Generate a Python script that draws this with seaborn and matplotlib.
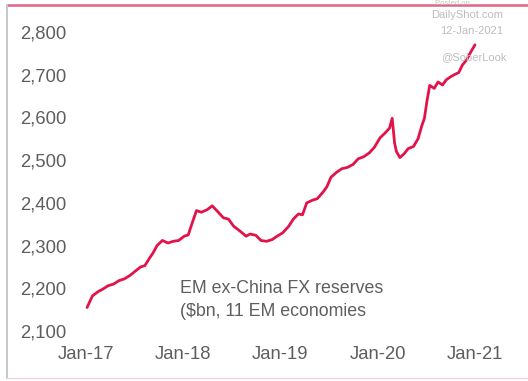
import matplotlib
matplotlib.use("Agg")
import matplotlib.pyplot as plt
from matplotlib.lines import Line2D
import pandas as pd
import seaborn as sns

# EM ex-China FX reserves, $bn
dates = [
    "2017-01-05", "2017-01-25", "2017-02-15", "2017-03-05", "2017-03-25", "2017-04-15",
    "2017-05-05", "2017-05-25", "2017-06-15", "2017-07-05", "2017-07-25", "2017-08-10",
    "2017-08-25", "2017-09-10", "2017-09-25", "2017-10-15", "2017-11-05", "2017-11-25",
    "2017-12-15", "2018-01-05", "2018-01-20", "2018-02-05", "2018-02-20", "2018-03-10",
    "2018-04-01", "2018-04-20", "2018-05-10", "2018-06-01", "2018-06-20", "2018-07-10",
    "2018-07-25", "2018-08-10", "2018-08-25", "2018-09-10", "2018-10-01", "2018-10-20",
    "2018-11-10", "2018-12-01", "2018-12-20", "2019-01-10", "2019-02-01", "2019-02-20",
    "2019-03-10", "2019-03-25", "2019-04-10", "2019-05-01", "2019-05-20", "2019-06-10",
    "2019-06-25", "2019-07-10", "2019-08-01", "2019-08-20", "2019-09-10", "2019-10-01",
    "2019-10-20", "2019-11-10", "2019-12-01", "2019-12-20", "2020-01-10", "2020-01-30",
    "2020-02-15", "2020-02-25", "2020-03-05", "2020-03-12", "2020-03-25", "2020-04-10",
    "2020-04-25", "2020-05-15", "2020-06-01", "2020-06-15", "2020-06-25", "2020-07-05",
    "2020-07-15", "2020-08-01", "2020-08-15", "2020-09-01", "2020-09-15", "2020-10-01",
    "2020-10-15", "2020-11-01", "2020-11-15", "2020-12-01", "2020-12-15", "2021-01-01",
]
reserves = [
    2155, 2182, 2192, 2198, 2206, 2210, 2218, 2222, 2230, 2240, 2250, 2253,
    2268, 2283, 2300, 2312, 2306, 2310, 2312, 2322, 2325, 2355, 2382, 2378,
    2384, 2393, 2380, 2365, 2362, 2345, 2338, 2330, 2322, 2327, 2324, 2312,
    2310, 2314, 2322, 2330, 2345, 2363, 2374, 2372, 2400, 2406, 2410, 2425,
    2438, 2460, 2472, 2480, 2483, 2490, 2503, 2508, 2517, 2530, 2552, 2564,
    2575, 2598, 2540, 2520, 2506, 2515, 2527, 2532, 2550, 2580, 2598, 2640,
    2675, 2668, 2683, 2676, 2688, 2695, 2700, 2705, 2723, 2735, 2752, 2770,
]
y_ticks = [2100, 2200, 2300, 2400, 2500, 2600, 2700, 2800]
x_ticks = ["2017-01-01", "2018-01-01", "2019-01-01", "2020-01-01", "2021-01-01"]
x_labels = ["Jan-17", "Jan-18", "Jan-19", "Jan-20", "Jan-21"]

df = pd.DataFrame({"date": pd.to_datetime(dates), "reserves": reserves})

sns.set_style("white")
plt.rcParams["font.family"] = ["Liberation Sans", "DejaVu Sans"]

W, H = 528, 381
fig = plt.figure(figsize=(W / 100, H / 100), dpi=100)
fig.patch.set_facecolor("white")

# plotting area spans the first and last tick labels
ax = fig.add_axes([86 / W, (H - 331) / H, (475 - 86) / W, (331 - 32) / H])
sns.lineplot(data=df, x="date", y="reserves", ax=ax, color="#e3134a",
             linewidth=2.0, clip_on=False)

ax.set_xlim(pd.Timestamp(x_ticks[0]), pd.Timestamp(x_ticks[-1]))
ax.set_ylim(y_ticks[0], y_ticks[-1])
ax.set_yticks(y_ticks)
ax.set_yticklabels([f"{v:,}" for v in y_ticks])
ax.set_xticks(pd.to_datetime(x_ticks))
ax.set_xticklabels(x_labels)
ax.set_xlabel("")
ax.set_ylabel("")
for s in ax.spines.values():
    s.set_visible(False)
ax.tick_params(axis="y", length=0, pad=14, labelsize=13.3, labelcolor="#5e5e5e")
ax.tick_params(axis="x", length=0, pad=11, labelsize=13.3, labelcolor="#5e5e5e")
ax.patch.set_alpha(0)

# caption inside the chart
fig.text(180 / W, (H - 300) / H, "EM ex-China FX reserves\n($bn, 11 EM economies",
         fontsize=12.8, color="#5e5e5e", ha="left", va="center", linespacing=1.45)

# source stamp
stamp = dict(fontsize=8, color="#bdbdbd", ha="right", va="center")
fig.text(470 / W, 1.0, "Posted on", fontsize=5.5, color="#c4c4c4", ha="right", va="top")
fig.text(503 / W, (H - 15) / H, "DailyShot.com", **stamp)
fig.text(503 / W, (H - 31) / H, "12-Jan-2021", **stamp)
fig.text(507 / W, (H - 57) / H, "@SoberLook", **stamp)

# frame lines
fig.add_artist(Line2D([7 / W, 1], [(H - 5) / H, (H - 5) / H], transform=fig.transFigure,
                      color="#df6383", linewidth=1.8))
fig.add_artist(Line2D([7 / W, 7 / W], [(H - 5) / H, 3 / H], transform=fig.transFigure,
                      color="#c8c8c8", linewidth=1.4))
fig.add_artist(Line2D([7 / W, 1], [3 / H, 3 / H], transform=fig.transFigure,
                      color="#f3d4d8", linewidth=1.0))

fig.savefig("out.png", dpi=100, facecolor="white")
